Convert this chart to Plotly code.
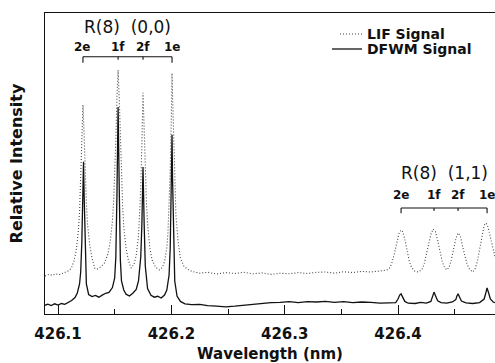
import plotly.graph_objects as go

# ---------------- data ----------------
lif_wl = [426.0885, 426.092, 426.095, 426.098, 426.101, 426.104, 426.107, 426.110, 426.112, 426.114,
          426.116, 426.118, 426.119, 426.120, 426.121, 426.122, 426.123, 426.124, 426.125, 426.126,
          426.128, 426.130, 426.1325, 426.135, 426.138, 426.141, 426.144, 426.146, 426.148, 426.149,
          426.150, 426.151, 426.152, 426.153, 426.154, 426.155, 426.156, 426.157, 426.158, 426.160,
          426.162, 426.1645, 426.167, 426.169, 426.171, 426.172, 426.173, 426.174, 426.175, 426.176,
          426.177, 426.178, 426.179, 426.181, 426.183, 426.186, 426.1895, 426.192, 426.194, 426.196,
          426.197, 426.198, 426.199, 426.200, 426.2006, 426.201, 426.202, 426.203, 426.204, 426.206,
          426.208, 426.211, 426.214, 426.218, 426.225, 426.232, 426.240, 426.248, 426.256, 426.264,
          426.272, 426.280, 426.288, 426.296, 426.304, 426.312, 426.320, 426.328, 426.336, 426.344,
          426.352, 426.360, 426.368, 426.376, 426.384, 426.390, 426.393, 426.395, 426.397, 426.399,
          426.401, 426.4027, 426.404, 426.406, 426.408, 426.410, 426.412, 426.415, 426.418, 426.421,
          426.423, 426.425, 426.427, 426.429, 426.431, 426.433, 426.435, 426.437, 426.439, 426.441,
          426.443, 426.445, 426.447, 426.449, 426.451, 426.453, 426.455, 426.457, 426.459, 426.461,
          426.463, 426.466, 426.468, 426.470, 426.472, 426.474, 426.476, 426.4777, 426.479, 426.481,
          426.483, 426.4856]
lif_int = [12.7, 13.2, 12.9, 13.4, 13.1, 13.6, 13.9, 14.5, 15.5, 17.5,
           21.0, 28.0, 34.0, 44.0, 57.0, 69.7, 60.0, 47.0, 37.0, 30.0,
           23.0, 18.5, 15.2, 15.0, 15.8, 17.0, 20.0, 24.0, 31.0, 37.0,
           46.0, 58.0, 72.0, 81.3, 72.0, 58.0, 45.0, 36.0, 29.0, 22.0,
           18.0, 15.3, 16.5, 19.5, 26.0, 32.0, 42.0, 57.0, 73.7, 62.0,
           48.0, 37.0, 30.0, 22.0, 18.0, 15.6, 14.7, 15.5, 17.5, 22.0,
           27.0, 35.0, 48.0, 66.0, 80.3, 74.0, 58.0, 43.0, 33.0, 24.0,
           18.5, 16.0, 15.0, 14.2, 13.6, 13.9, 13.3, 13.8, 13.5, 13.9,
           13.4, 13.7, 13.2, 13.6, 13.4, 13.8, 13.5, 13.9, 14.0, 13.6,
           14.1, 13.8, 14.2, 14.0, 14.3, 14.6, 15.5, 17.5, 20.5, 24.0,
           27.0, 28.0, 27.5, 25.0, 21.0, 17.5, 15.5, 14.2, 14.0, 14.8,
           16.5, 19.5, 23.5, 26.5, 28.3, 27.5, 24.5, 20.5, 17.5, 15.5,
           14.7, 15.5, 18.0, 21.5, 25.0, 27.0, 26.0, 22.5, 19.0, 16.5,
           15.0, 14.0, 15.0, 17.5, 21.5, 26.0, 29.5, 30.3, 29.5, 26.5,
           23.0, 19.0]

dfwm_wl = [426.0885, 426.091, 426.094, 426.097, 426.100, 426.103, 426.106, 426.109, 426.112, 426.115,
           426.117, 426.119, 426.120, 426.121, 426.122, 426.1225, 426.123, 426.124, 426.125, 426.127,
           426.130, 426.133, 426.136, 426.139, 426.142, 426.145, 426.148, 426.150, 426.151, 426.152,
           426.153, 426.154, 426.155, 426.156, 426.158, 426.160, 426.163, 426.166, 426.169, 426.171,
           426.173, 426.174, 426.175, 426.176, 426.177, 426.179, 426.182, 426.185, 426.188, 426.191,
           426.194, 426.196, 426.198, 426.199, 426.200, 426.2006, 426.201, 426.202, 426.203, 426.205,
           426.208, 426.212, 426.218, 426.225, 426.232, 426.240, 426.248, 426.256, 426.264, 426.272,
           426.280, 426.288, 426.296, 426.304, 426.312, 426.320, 426.328, 426.336, 426.344, 426.352,
           426.360, 426.368, 426.376, 426.384, 426.392, 426.398, 426.400, 426.4015, 426.4027, 426.404,
           426.406, 426.409, 426.415, 426.420, 426.425, 426.429, 426.4305, 426.4318, 426.433, 426.435,
           426.438, 426.443, 426.448, 426.451, 426.452, 426.453, 426.4545, 426.456, 426.460, 426.466,
           426.472, 426.476, 426.4775, 426.4786, 426.480, 426.4815, 426.484, 426.4856]
dfwm_int = [2.9, 3.3, 2.8, 3.4, 3.0, 3.5, 3.2, 3.8, 4.5, 5.5,
            7.0, 10.0, 14.0, 24.0, 42.0, 50.7, 40.0, 18.0, 10.0, 6.5,
            5.8, 6.2, 5.6, 6.3, 6.9, 7.2, 8.8, 12.0, 19.0, 40.0,
            69.0, 42.0, 18.0, 11.0, 8.0, 6.6, 6.0, 6.9, 8.2, 11.0,
            19.0, 30.0, 49.0, 30.0, 16.0, 8.5, 6.2, 5.6, 5.9, 5.3,
            6.3, 8.0, 13.0, 22.0, 40.0, 59.7, 46.0, 22.0, 11.0, 6.0,
            4.2, 3.4, 3.1, 3.2, 2.8, 2.6, 2.4, 2.6, 2.9, 3.3,
            3.5, 3.8, 3.9, 4.1, 3.8, 4.1, 4.0, 4.2, 3.9, 4.1,
            3.8, 4.0, 3.9, 3.6, 3.7, 3.8, 5.0, 6.3, 6.7, 5.5,
            4.2, 3.6, 3.5, 3.9, 3.6, 4.2, 6.0, 7.3, 6.2, 4.4,
            3.8, 3.6, 4.0, 4.8, 6.0, 6.7, 5.5, 4.3, 3.7, 3.5,
            3.8, 5.0, 7.0, 8.7, 7.0, 5.0, 4.0, 3.8]

branch_labels = ["2e", "1f", "2f", "1e"]
peaks_00 = [426.122, 426.153, 426.175, 426.2006]
peaks_11 = [426.4027, 426.4318, 426.453, 426.4786]
band_titles = ["R(8)  (0,0)", "R(8)  (1,1)"]
series_names = ["LIF Signal", "DFWM Signal"]
x_ticks = [426.1, 426.2, 426.3, 426.4]

# ---------------- figure ----------------
FONT = "DejaVu Sans"
INK = "#111111"
LIF_STYLE = dict(color="#444444", width=1.1, dash="1px,2px")
DFWM_STYLE = dict(color=INK, width=1.3)

fig = go.Figure()
fig.add_trace(go.Scatter(x=lif_wl, y=lif_int, mode="lines", name=series_names[0],
                         line=LIF_STYLE, showlegend=False))
fig.add_trace(go.Scatter(x=dfwm_wl, y=dfwm_int, mode="lines", name=series_names[1],
                         line=DFWM_STYLE, showlegend=False))

shapes = []
annotations = []
groups = [(peaks_00, 85.7, 83.7, 89.0, band_titles[0], 95.7),
          (peaks_11, 35.3, 33.6, 39.7, band_titles[1], 47.0)]
for peaks, ybar, yend, ylab, title, ytitle in groups:
    shapes.append(dict(type="line", xref="x", yref="y", x0=peaks[0], x1=peaks[-1],
                       y0=ybar, y1=ybar, line=dict(color=INK, width=1.1)))
    for i, p in enumerate(peaks):
        y1 = yend if i in (0, len(peaks) - 1) else (ybar - 1.0)
        shapes.append(dict(type="line", xref="x", yref="y", x0=p, x1=p, y0=ybar, y1=y1,
                           line=dict(color=INK, width=1.1)))
        annotations.append(dict(x=p, y=ylab, xref="x", yref="y", text=branch_labels[i],
                                showarrow=False, yanchor="middle",
                                font=dict(family=FONT, size=12, color=INK, weight="bold")))
    annotations.append(dict(x=(peaks[0] + peaks[-1]) / 2, y=ytitle, xref="x", yref="y",
                            text=title, showarrow=False, yanchor="middle",
                            font=dict(family=FONT, size=17, color=INK)))

# hand-placed legend (paper coordinates, plot area 450 x 301 px)
PW, PH = 450.0, 301.0
legend_rows = [(series_names[0], LIF_STYLE, 340, 34), (series_names[1], DFWM_STYLE, 332, 49)]
for name, style, x_start, y_px in legend_rows:
    yp = (314 - y_px) / PH
    shapes.append(dict(type="line", xref="paper", yref="paper",
                       x0=(x_start - 45) / PW, x1=(362 - 45) / PW, y0=yp, y1=yp, line=style))
    annotations.append(dict(x=(365 - 45) / PW, y=yp, xref="paper", yref="paper", text=name,
                            showarrow=False, xanchor="left", yanchor="middle",
                            font=dict(family=FONT, size=14, color=INK, weight="bold")))

fig.update_layout(
    width=495, height=363,
    margin=dict(l=45, r=0, t=13, b=49),
    paper_bgcolor="white", plot_bgcolor="white",
    showlegend=False,
    shapes=shapes,
    annotations=annotations,
    font=dict(family=FONT, color=INK),
)
fig.update_xaxes(
    range=[426.0885, 426.4856], tickmode="array", tickvals=x_ticks,
    ticktext=[f"{v:.1f}" for v in x_ticks],
    ticks="inside", ticklen=9, tickwidth=1.1, tickcolor=INK,
    minor=dict(ticks="inside", ticklen=5, tickwidth=1.1, tickcolor=INK,
               tickmode="array", tickvals=[426.15, 426.25, 426.35, 426.45]),
    showline=True, linecolor=INK, linewidth=1.3, mirror=True,
    showgrid=False, zeroline=False,
    tickfont=dict(family=FONT, size=15, color=INK, weight="bold"),
    ticklabelstandoff=6,
    title=dict(text="Wavelength (nm)", standoff=6,
               font=dict(family=FONT, size=15, color=INK, weight="bold")),
)
fig.update_yaxes(
    range=[0, 100.3], showticklabels=False, ticks="",
    showline=True, linecolor=INK, linewidth=1.3, mirror=False,
    showgrid=False, zeroline=False,
    title=dict(text="Relative Intensity", standoff=17,
               font=dict(family=FONT, size=16, color=INK, weight="bold")),
)

fig.write_html("out.html")
